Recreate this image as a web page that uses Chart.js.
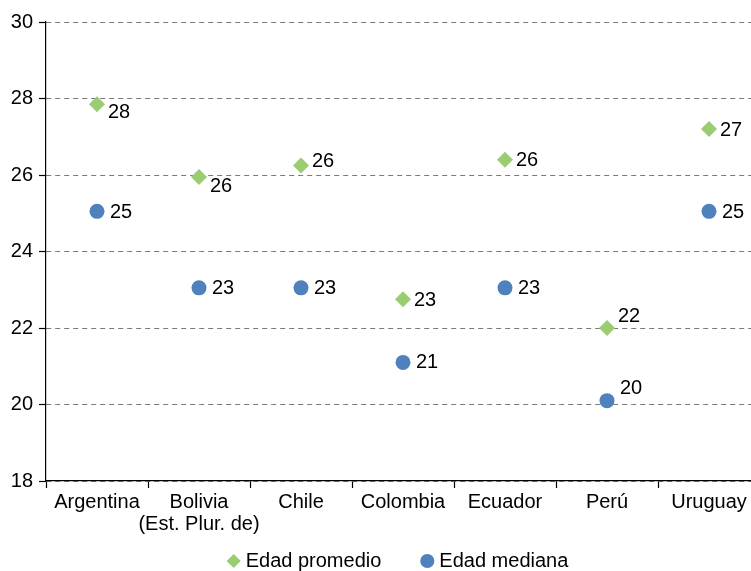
<!DOCTYPE html>
<html>
<head>
<meta charset="utf-8">
<script src="https://cdn.jsdelivr.net/npm/chart.js@4"></script>
<style>
html, body { margin: 0; padding: 0; overflow: hidden; background: #fff; }
#wrap { width: 768px; height: 571px; position: relative; }
</style>
</head>
<body>
<div id="wrap"><canvas id="chart"></canvas></div>
<script>
// datos
var paises = ['Argentina', ['Bolivia', '(Est. Plur. de)'], 'Chile', 'Colombia', 'Ecuador', 'Perú', 'Uruguay'];
var edadPromedio = [27.85, 25.95, 26.25, 22.75, 26.4, 22.0, 27.2];
var edadMediana = [25.05, 23.05, 23.05, 21.1, 23.05, 20.1, 25.05];
var ejeYMin = 18;
var ejeYMax = 30;
var ejeYPaso = 2;

var fuente = '"Liberation Sans", Arial, sans-serif';

// etiquetas de valor junto a cada punto
var etiquetas = {
    id: 'etiquetas',
    afterDatasetsDraw: function(chart, args, opts) {
        var ctx = chart.ctx;
        ctx.save();
        ctx.font = '20px ' + fuente;
        ctx.fillStyle = '#000';
        ctx.textAlign = 'left';
        ctx.textBaseline = 'middle';
        chart.data.datasets.forEach(function(ds, i) {
            var meta = chart.getDatasetMeta(i);
            meta.data.forEach(function(pt, j) {
                ctx.fillText(String(Math.round(ds.data[j])), pt.x + opts.dx[i], pt.y + opts.dy[i][j]);
            });
        });
        ctx.restore();
    }
};

// la leyenda se dibuja un poco más arriba, dentro de la zona de las etiquetas del eje x
var subirLeyenda = {
    id: 'subirLeyenda',
    afterLayout: function(chart) {
        chart.legend.top = chart.chartArea.bottom + 26;
        chart.legend.left -= 6;
    }
};

var ctx = document.getElementById('chart').getContext('2d');
var chart = new Chart(ctx, {
    type: 'line',
    data: {
        labels: paises,
        datasets: [{
            label: 'Edad promedio',
            data: edadPromedio,
            showLine: false,
            pointStyle: 'rectRot',
            pointRadius: 8,
            pointBorderWidth: 0,
            backgroundColor: '#9acd72',
            borderColor: '#9acd72'
        }, {
            label: 'Edad mediana',
            data: edadMediana,
            showLine: false,
            pointStyle: 'circle',
            pointRadius: 7.5,
            pointBorderWidth: 0,
            backgroundColor: '#4f81bd',
            borderColor: '#4f81bd'
        }]
    },
    options: {
        responsive: true,
        maintainAspectRatio: false,
        animation: false,
        layout: { padding: { top: 22, left: 0, right: 0, bottom: 0 } },
        scales: {
            x: {
                offset: true,
                afterFit: function(scale) { scale.height = 60; },
                grid: {
                    offset: true,
                    drawOnChartArea: false,
                    drawTicks: true,
                    tickLength: 7,
                    tickColor: '#000',
                    tickWidth: 1.2
                },
                border: { color: '#000', width: 1.2 },
                ticks: {
                    color: '#000',
                    padding: 4,
                    maxRotation: 0,
                    autoSkip: false,
                    font: { family: fuente, size: 20, lineHeight: 1.08 }
                }
            },
            y: {
                min: ejeYMin,
                max: ejeYMax,
                afterFit: function(scale) { scale.width = 46; },
                grid: {
                    color: '#7a7a7a',
                    lineWidth: 1,
                    tickLength: 7,
                    tickColor: '#000',
                    tickWidth: 1.2,
                    tickBorderDash: []
                },
                border: { color: '#000', width: 1.2, dash: [5, 4] },
                ticks: {
                    stepSize: ejeYPaso,
                    color: '#000',
                    padding: 6,
                    font: { family: fuente, size: 20 }
                }
            }
        },
        plugins: {
            legend: {
                position: 'bottom',
                fullSize: false,
                maxHeight: 30,
                labels: {
                    usePointStyle: true,
                    boxWidth: 4,
                    boxHeight: 10,
                    padding: 44,
                    color: '#000',
                    font: { family: fuente, size: 20 }
                }
            },
            tooltip: { enabled: false },
            etiquetas: {
                dx: [11, 13],
                dy: [[8, 10, -4, 1, 1, -12, 1], [1, 1, 1, 0, 1, -12, 1]]
            }
        }
    },
    plugins: [etiquetas, subirLeyenda]
});
</script>
</body>
</html>
